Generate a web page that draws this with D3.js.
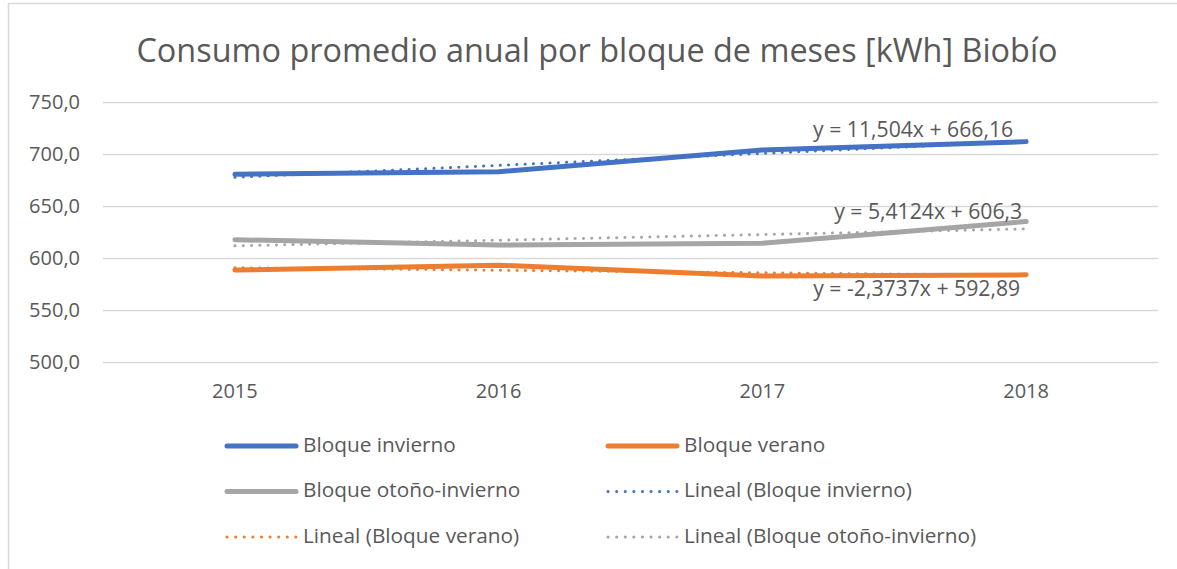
<!DOCTYPE html>
<html>
<head>
<meta charset="utf-8">
<script src="https://cdn.jsdelivr.net/npm/d3@7"></script>
<style>
  html, body { margin: 0; padding: 0; background: #fff; overflow: hidden; }
  svg { display: block; }
  svg text { font-family: "Open Sans", sans-serif; fill: #595959; }
</style>
</head>
<body>
<div class="svg-wrapper"></div>
<script>
const years = ["2015", "2016", "2017", "2018"];
const invierno = [680.5, 683.0, 703.8, 711.9];
const verano = [588.4, 593.1, 582.6, 583.8];
const otonoInvierno = [617.6, 612.4, 614.2, 635.1];
const yTicks = [500, 550, 600, 650, 700, 750];
const equations = ["y = 11,504x + 666,16", "y = -2,3737x + 592,89", "y = 5,4124x + 606,3"];
const seriesNames = ["Bloque invierno", "Bloque verano", "Bloque otoño-invierno"];

const width = 1177, height = 569;
const margin = ({top: 102, right: 19, bottom: 207, left: 103});
const innerWidth = width - margin.left - margin.right;
const innerHeight = height - margin.top - margin.bottom;

const colors = ["#4472C4", "#ED7D31", "#A5A5A5"];
const seriesData = [invierno, verano, otonoInvierno];

const svg = d3.select(".svg-wrapper")
  .append("svg")
  .attr("width", width)
  .attr("height", height);

// chart area border, only left and top are inside the picture
svg.append("path")
  .attr("d", `M8.5,${height} V3.5 H${width}`)
  .attr("fill", "none")
  .attr("stroke", "#D9D9D9")
  .attr("stroke-width", 1.5);

svg.append("text")
  .attr("x", 597)
  .attr("y", 62)
  .attr("text-anchor", "middle")
  .style("font-size", "32.4px")
  .text("Consumo promedio anual por bloque de meses [kWh] Biobío");

const xScale = d3.scaleBand()
  .domain(years)
  .range([0, innerWidth]);

const yScale = d3.scaleLinear()
  .domain([500, 750])
  .range([innerHeight, 0]);

const g = svg.append("g")
  .attr("transform", `translate(${margin.left},${margin.top})`);

const yAxis = d3.axisLeft(yScale)
  .tickValues(yTicks)
  .tickSize(-innerWidth)
  .tickPadding(23)
  .tickFormat(d => d3.format(".1f")(d).replace(".", ","));

const yAxisG = g.append("g").call(yAxis);
yAxisG.selectAll(".domain").remove();
yAxisG.selectAll(".tick line").attr("stroke", "#D9D9D9").attr("stroke-width", 1.5);
yAxisG.selectAll(".tick text").style("font-size", "20px").attr("fill", "#595959");

const xAxis = d3.axisBottom(xScale).tickSize(0).tickPadding(22);
const xAxisG = g.append("g")
  .attr("transform", `translate(0,${innerHeight})`)
  .call(xAxis);
xAxisG.selectAll(".domain").remove();
xAxisG.selectAll(".tick text").style("font-size", "20px").attr("fill", "#595959");

const xPos = (d, i) => xScale(years[i]) + xScale.bandwidth() / 2;

const line = d3.line()
  .x(xPos)
  .y(d => yScale(d));

// linear trend, as the spreadsheet computes it (x = 1..n)
function trend(values){
  const xs = values.map((d, i) => i + 1);
  const mx = d3.mean(xs), my = d3.mean(values);
  const slope = d3.sum(xs, (x, i) => (x - mx) * (values[i] - my)) / d3.sum(xs, x => (x - mx) * (x - mx));
  const b = my - slope * mx;
  return xs.map(x => b + slope * x);
}

seriesData.forEach((s, k) => {
  g.append("path")
    .attr("d", line(s))
    .attr("fill", "none")
    .attr("stroke", colors[k])
    .attr("stroke-width", 5)
    .attr("stroke-linecap", "round")
    .attr("stroke-linejoin", "round");
});

seriesData.forEach((s, k) => {
  g.append("path")
    .attr("d", line(trend(s)))
    .attr("fill", "none")
    .attr("stroke", colors[k])
    .attr("stroke-width", 3)
    .attr("stroke-linecap", "round")
    .attr("stroke-dasharray", "0.1 8.2");
});

// equation labels near the last point
const lastX = xPos(null, years.length - 1);
const eqOffsets = [{dx: -13, dy: -10}, {dx: -6, dy: 15}, {dx: -4, dy: -8}];
seriesData.forEach((s, k) => {
  g.append("text")
    .attr("x", lastX + eqOffsets[k].dx)
    .attr("y", yScale(s[s.length - 1]) + eqOffsets[k].dy)
    .attr("text-anchor", "end")
    .attr("dominant-baseline", "middle")
    .style("font-size", "21.2px")
    .text(equations[k]);
});

// legend
const legendItems = [
  {name: seriesNames[0], color: colors[0], dotted: false},
  {name: seriesNames[1], color: colors[1], dotted: false},
  {name: seriesNames[2], color: colors[2], dotted: false},
  {name: "Lineal (" + seriesNames[0] + ")", color: colors[0], dotted: true},
  {name: "Lineal (" + seriesNames[1] + ")", color: colors[1], dotted: true},
  {name: "Lineal (" + seriesNames[2] + ")", color: colors[2], dotted: true}
];

const legend = svg.append("g");
legendItems.forEach((d, i) => {
  const col = i % 2, row = Math.floor(i / 2);
  const lx = 227 + col * 381, ly = 446 + row * 45.5;
  legend.append("line")
    .attr("x1", lx).attr("x2", lx + 69)
    .attr("y1", ly).attr("y2", ly)
    .attr("stroke", d.color)
    .attr("stroke-width", d.dotted ? 3 : 5)
    .attr("stroke-linecap", "round")
    .attr("stroke-dasharray", d.dotted ? "0.1 8.5" : null);
  legend.append("text")
    .attr("x", lx + 76)
    .attr("y", ly)
    .attr("dominant-baseline", "middle")
    .style("font-size", "20.8px")
    .text(d.name);
});
</script>
</body>
</html>
